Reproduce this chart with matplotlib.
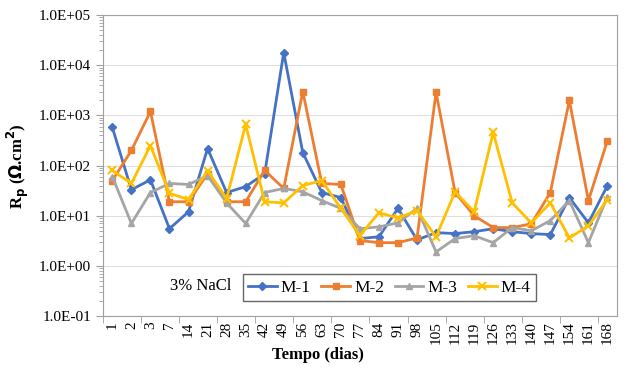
import matplotlib.pyplot as plt
from matplotlib.ticker import FuncFormatter, LogLocator, NullFormatter
import numpy as np

plt.rcParams['font.family'] = ['Liberation Serif', 'DejaVu Serif']

# dias de ensaio
dias = ['1', '2', '3', '7', '14', '21', '28', '35', '42', '49', '56', '63', '70', '77',
        '84', '91', '98', '105', '112', '119', '126', '133', '140', '147', '154', '161', '168']

# Rp para cada amostra (Ohm.cm2)
m1 = [575, 33, 52, 5.5, 12, 219, 29, 38, 69, 18000, 182, 29, 23, 3.5,
      3.8, 14, 3.3, 4.6, 4.4, 4.8, 5.5, 4.8, 4.4, 4.2, 23, 7.2, 40]
m2 = [50, 200, 1200, 19, 19, 69, 19, 19, 80, 35, 3000, 44, 42, 3.2,
      2.9, 2.9, 3.6, 2900, 29, 10, 5.8, 5.8, 6.9, 29, 2000, 20, 316]
m3 = [60, 7, 29, 44, 42, 63, 18, 7, 29, 35, 30, 20, 14, 5.5,
      6, 7.2, 14, 1.9, 3.5, 4.0, 2.9, 5.8, 5.0, 8, 20, 2.9, 24]
m4 = [80, 44, 250, 28, 21, 79, 22, 660, 19, 18, 40, 50, 14, 4,
      11.5, 9, 12.6, 3.8, 30, 12, 457, 18, 7.2, 18, 3.6, 6.3, 21]

x = np.arange(len(dias))

fig = plt.figure(figsize=(6.27, 3.70), dpi=100)
ax = fig.add_axes([0.164, 0.146, 0.820, 0.813])

ax.plot(x, m1, color='#4472C4', marker='D', markersize=4, lw=2, label='M-1')
ax.plot(x, m2, color='#ED7D31', marker='s', markersize=4.5, lw=2, label='M-2')
ax.plot(x, m3, color='#A5A5A5', marker='^', markersize=5, lw=2, label='M-3')
ax.plot(x, m4, color='#FFC000', marker='x', markersize=6, mew=1.5, lw=2, label='M-4')

ax.set_yscale('log')
ax.set_ylim(0.1, 1e5)
ax.set_xlim(-0.5, len(dias) - 0.5)

ax.yaxis.set_major_locator(LogLocator(base=10, numticks=10))
ax.yaxis.set_minor_locator(LogLocator(base=10, subs=np.arange(2, 10), numticks=20))
ax.yaxis.set_minor_formatter(NullFormatter())
ax.yaxis.set_major_formatter(FuncFormatter(lambda v, p: '%.1E' % v))

ax.set_xticks(x)
ax.set_xticklabels(dias, rotation=90, fontsize=11)
ax.tick_params(axis='x', length=0, pad=4)
# marcas entre categorias a cada 2
ax.set_xticks(np.arange(-0.5, len(dias), 2), minor=True)
ax.tick_params(axis='x', which='minor', length=5, color='#A0A0A0')
ax.tick_params(axis='y', which='major', labelsize=11, length=5, color='#A0A0A0')
ax.tick_params(axis='y', which='minor', length=3, color='#A0A0A0')

ax.grid(axis='y', which='major', color='#E0E0E0', lw=0.8)
ax.set_axisbelow(True)
for s in ax.spines.values():
    s.set_color('#A0A0A0')

ax.set_xlabel('Tempo (dias)', fontsize=12, fontweight='bold', va='center')
ax.xaxis.set_label_coords(0.418, -0.13)
ax.set_ylabel(r'R$_\mathbf{p}$ ($\mathbf{\Omega}$.cm$^\mathbf{2}$)', fontsize=12,
              fontweight='bold', labelpad=6)

leg = ax.legend(loc='lower left', bbox_to_anchor=(0.272, 0.05), ncol=4, fontsize=12.5,
                frameon=True, fancybox=False, edgecolor='#404040', handlelength=1.65,
                columnspacing=0.6, handletextpad=0.25, borderpad=0.3, borderaxespad=0)
leg.get_frame().set_linewidth(1)
ax.text(0.13, 0.1, '3% NaCl', transform=ax.transAxes, fontsize=12, va='center')

fig.savefig('out.png', dpi=100)
